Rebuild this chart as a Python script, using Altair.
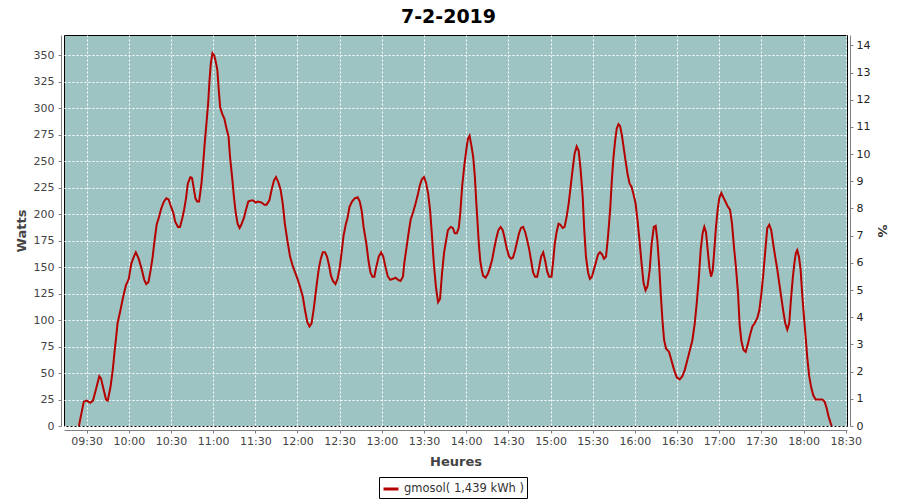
import altair as alt
import pandas as pd

TITLE = "7-2-2019"
SERIES = "gmosol( 1,439 kWh )"

TIMES = [
    "09:24:30", "09:26:00", "09:28:00", "09:30:00", "09:32:36", "09:34:30", "09:36:42", "09:39:00",
    "09:40:12", "09:42:00", "09:43:48", "09:45:00", "09:47:00", "09:48:36", "09:50:00", "09:51:00",
    "09:52:00", "09:54:00", "09:56:00", "09:58:00", "10:00:00", "10:01:42", "10:03:36", "10:05:00",
    "10:07:00", "10:09:00", "10:11:00", "10:12:24", "10:14:00", "10:15:30", "10:17:00", "10:18:18",
    "10:19:48", "10:21:24", "10:23:00", "10:25:00", "10:26:42", "10:28:18", "10:29:48", "10:31:42",
    "10:33:00", "10:35:00", "10:36:24", "10:38:00", "10:39:18", "10:40:42", "10:42:00", "10:43:48",
    "10:45:00", "10:46:00", "10:47:24", "10:48:36", "10:50:00", "10:51:42", "10:52:54", "10:54:00",
    "10:55:00", "10:56:24", "10:57:24", "10:58:18", "10:59:30", "11:00:42", "11:01:42", "11:03:00",
    "11:04:00", "11:05:00", "11:06:24", "11:08:00", "11:09:18", "11:11:00", "11:12:00", "11:13:30",
    "11:14:48", "11:16:00", "11:17:24", "11:18:48", "11:20:00", "11:22:00", "11:23:18", "11:25:00",
    "11:27:00", "11:28:36", "11:30:12", "11:32:00", "11:34:30", "11:36:24", "11:38:00", "11:40:00",
    "11:41:36", "11:43:18", "11:44:42", "11:46:24", "11:48:00", "11:49:30", "11:51:00", "11:52:48",
    "11:54:42", "11:56:24", "11:58:18", "12:00:00", "12:01:54", "12:03:48", "12:05:24", "12:07:00",
    "12:08:30", "12:10:00", "12:11:24", "12:12:36", "12:13:48", "12:15:12", "12:16:36", "12:18:00",
    "12:19:30", "12:21:00", "12:22:24", "12:23:48", "12:25:12", "12:27:00", "12:28:30", "12:30:00",
    "12:31:24", "12:32:48", "12:34:18", "12:35:42", "12:37:00", "12:38:48", "12:40:42", "12:42:48",
    "12:44:18", "12:45:42", "12:47:00", "12:49:00", "12:50:30", "12:51:54", "12:53:18", "12:54:42",
    "12:56:00", "12:57:48", "12:59:30", "13:01:00", "13:02:36", "13:04:18", "13:06:00", "13:08:00",
    "13:09:42", "13:11:36", "13:13:18", "13:15:00", "13:16:00", "13:17:36", "13:19:00", "13:20:30",
    "13:22:18", "13:24:00", "13:25:42", "13:27:00", "13:28:30", "13:30:00", "13:31:24", "13:33:00",
    "13:34:18", "13:35:42", "13:37:00", "13:38:30", "13:40:00", "13:41:24", "13:42:48", "13:44:18",
    "13:45:42", "13:47:00", "13:49:00", "13:50:30", "13:51:54", "13:53:18", "13:54:42", "13:55:48",
    "13:57:06", "13:58:36", "14:00:00", "14:01:12", "14:02:24", "14:03:48", "14:05:00", "14:06:12",
    "14:07:06", "14:08:00", "14:09:00", "14:10:00", "14:11:00", "14:12:00", "14:13:48", "14:15:30",
    "14:17:00", "14:18:36", "14:20:00", "14:21:24", "14:22:54", "14:24:30", "14:26:00", "14:27:24",
    "14:28:48", "14:30:30", "14:32:00", "14:33:18", "14:34:48", "14:36:12", "14:37:36", "14:39:00",
    "14:40:30", "14:42:00", "14:43:18", "14:44:48", "14:46:12", "14:47:36", "14:49:00", "14:50:30",
    "14:51:54", "14:53:18", "14:54:48", "14:56:12", "14:57:36", "14:59:00", "15:00:42", "15:01:54",
    "15:03:00", "15:04:18", "15:05:42", "15:07:00", "15:08:36", "15:10:00", "15:11:24", "15:12:54",
    "15:14:18", "15:15:42", "15:17:06", "15:18:36", "15:20:00", "15:21:24", "15:22:54", "15:24:00",
    "15:25:12", "15:26:42", "15:28:00", "15:29:30", "15:30:54", "15:32:24", "15:33:48", "15:35:12",
    "15:36:42", "15:38:00", "15:39:30", "15:40:54", "15:42:24", "15:43:36", "15:44:48", "15:46:00",
    "15:47:06", "15:48:18", "15:49:30", "15:50:42", "15:51:54", "15:53:18", "15:54:48", "15:56:12",
    "15:57:36", "15:59:00", "16:00:30", "16:01:54", "16:03:18", "16:04:48", "16:06:12", "16:07:36",
    "16:09:00", "16:10:30", "16:11:54", "16:13:30", "16:14:48", "16:16:00", "16:17:12", "16:18:24",
    "16:19:36", "16:20:48", "16:22:12", "16:24:18", "16:26:00", "16:27:54", "16:29:48", "16:31:54",
    "16:33:48", "16:35:30", "16:37:18", "16:39:12", "16:40:54", "16:42:36", "16:44:00", "16:45:24",
    "16:46:48", "16:48:12", "16:49:24", "16:50:36", "16:51:48", "16:53:00", "16:54:12", "16:55:24",
    "16:56:30", "16:57:42", "16:58:54", "17:00:00", "17:01:30", "17:02:54", "17:04:24", "17:05:48",
    "17:07:42", "17:09:06", "17:10:30", "17:11:54", "17:13:24", "17:14:30", "17:15:42", "17:17:12",
    "17:18:48", "17:20:30", "17:21:54", "17:23:36", "17:25:12", "17:27:06", "17:28:30", "17:30:00",
    "17:31:24", "17:32:48", "17:34:12", "17:35:36", "17:37:00", "17:38:24", "17:39:48", "17:41:18",
    "17:42:42", "17:44:06", "17:45:30", "17:47:00", "17:48:24", "17:49:48", "17:51:00", "17:52:12",
    "17:53:24", "17:54:30", "17:55:30", "17:56:42", "17:57:54", "17:59:00", "18:00:18", "18:01:30",
    "18:02:36", "18:04:00", "18:05:30", "18:06:54", "18:08:36", "18:10:54", "18:13:18", "18:15:00",
    "18:16:24", "18:17:48", "18:19:12", "18:20:00",
]

WATTS = [
    0, 10, 23, 24, 22, 24, 35, 47,
    45, 35, 25, 24, 37, 53, 72, 84,
    97, 109, 122, 133, 139, 153, 160, 164,
    158, 149, 138, 134, 136, 147, 160, 175,
    190, 197, 205, 212, 215, 214, 208, 201,
    193, 188, 188, 196, 204, 215, 229, 235,
    234, 226, 215, 212, 212, 229, 248, 267,
    282, 304, 326, 342, 352, 350, 345, 336,
    317, 301, 295, 290, 282, 273, 254, 235,
    216, 202, 191, 187, 190, 197, 204, 212,
    213, 213, 211, 212, 211, 209, 209, 213,
    223, 232, 235, 230, 223, 210, 191, 175,
    160, 152, 145, 139, 131, 122, 109, 98,
    94, 97, 109, 122, 135, 149, 158, 164,
    164, 160, 152, 142, 137, 134, 139, 149,
    164, 180, 190, 197, 207, 212, 215, 216,
    212, 203, 188, 172, 156, 145, 141, 141,
    150, 160, 164, 160, 150, 141, 138, 139,
    140, 138, 137, 141, 154, 169, 182, 195,
    202, 210, 219, 227, 233, 235, 230, 219,
    204, 179, 153, 131, 117, 120, 144, 164,
    175, 185, 188, 187, 182, 182, 187, 201,
    226, 245, 260, 271, 274, 264, 254, 235,
    213, 194, 172, 156, 148, 142, 140, 144,
    150, 158, 168, 177, 185, 188, 185, 177,
    168, 160, 158, 159, 166, 174, 182, 187,
    188, 183, 176, 167, 156, 145, 141, 141,
    150, 160, 164, 156, 146, 141, 141, 156,
    172, 183, 191, 190, 187, 188, 197, 210,
    226, 242, 257, 264, 260, 242, 216, 185,
    160, 145, 139, 141, 148, 155, 162, 164,
    162, 158, 160, 179, 204, 232, 254, 270,
    281, 285, 283, 275, 264, 251, 238, 229,
    226, 219, 210, 194, 175, 153, 135, 128,
    132, 147, 172, 188, 189, 175, 153, 125,
    100, 81, 73, 70, 62, 53, 46, 44,
    47, 53, 62, 72, 81, 97, 116, 138,
    166, 182, 188, 183, 166, 150, 141, 147,
    166, 188, 204, 215, 220, 216, 212, 208,
    204, 191, 169, 150, 125, 96, 81, 72,
    70, 78, 86, 94, 97, 102, 109, 125,
    144, 166, 187, 190, 185, 172, 160, 148,
    135, 122, 109, 97, 91, 97, 119, 138,
    153, 163, 166, 160, 148, 125, 103, 84,
    65, 47, 36, 29, 25, 25, 25, 23,
    17, 9, 3, 0,
]

X_TICKS = ["09:30", "10:00", "10:30", "11:00", "11:30", "12:00", "12:30", "13:00", "13:30",
           "14:00", "14:30", "15:00", "15:30", "16:00", "16:30", "17:00", "17:30", "18:00", "18:30"]
X_DOMAIN = ["09:13:54", "18:30:54"]
W_TICKS = [0, 25, 50, 75, 100, 125, 150, 175, 200, 225, 250, 275, 300, 325, 350]
W_DOMAIN = [0, 369.2]
P_TICKS = [0, 1, 2, 3, 4, 5, 6, 7, 8, 9, 10, 11, 12, 13, 14]
P_DOMAIN = [0, 14.38]

RED = "#B50000"
BG = "#9EC3C3"
FONT = "DejaVu Sans"


def to_min(s):
    parts = [int(v) for v in s.split(":")]
    return parts[0] * 60 + parts[1] + (parts[2] / 60 if len(parts) > 2 else 0)


df = pd.DataFrame({
    "t": [to_min(s) for s in TIMES],
    "w": WATTS,
    "serie": SERIES,
})
df["p"] = df["w"] * P_DOMAIN[1] / W_DOMAIN[1]

label_expr = ("(floor(datum.value/60)<10?'0':'')+floor(datum.value/60)+':'+"
              "(datum.value%60<10?'0':'')+(datum.value%60)")

x_axis = alt.Axis(
    values=[to_min(s) for s in X_TICKS], labelExpr=label_expr,
    title="Heures", titleFont=FONT, titleFontSize=13, titleFontWeight="bold", titleColor="#444444",
    titleY=35, titleBaseline="alphabetic",
    labelFont=FONT, labelFontSize=11, labelColor="#444444", labelPadding=2,
    labelFlush=False, labelOverlap=False,
    domainColor="#808080", tickColor="#808080", tickSize=3, offset=4,
    grid=True, gridColor="white", gridDash=[2, 2], gridWidth=1, gridOpacity=1,
)

y_axis = alt.Axis(
    values=W_TICKS, title="Watts", titleFont=FONT, titleFontSize=13, titleFontWeight="bold",
    titleColor="#444444", titleX=-36, titleBaseline="alphabetic",
    labelFont=FONT, labelFontSize=11, labelColor="#444444", labelPadding=4,
    labelFlush=False, labelOverlap=False,
    domainColor="#808080", tickColor="#808080", tickSize=3, offset=3,
    grid=True, gridColor="white", gridDash=[2, 2], gridWidth=1, gridOpacity=1,
)

p_axis = alt.Axis(
    values=P_TICKS, orient="right", title="%", titleFont=FONT, titleFontSize=13,
    titleFontWeight="bold", titleColor="#333333", titleX=27, titleBaseline="alphabetic",
    labelFont=FONT, labelFontSize=11, labelColor="#222222", labelPadding=3,
    labelFlush=False, labelOverlap=False,
    domainColor="#808080", tickColor="#808080", tickSize=3, offset=3, grid=False,
)

x_scale = alt.Scale(domain=[to_min(s) for s in X_DOMAIN], nice=False, zero=False)

line = alt.Chart(df).mark_line(strokeWidth=2).encode(
    x=alt.X("t:Q", scale=x_scale, axis=x_axis),
    y=alt.Y("w:Q", scale=alt.Scale(domain=W_DOMAIN, nice=False), axis=y_axis),
    color=alt.Color("serie:N", scale=alt.Scale(range=[RED]), legend=alt.Legend(
        title=None, orient="none", legendX=315, legendY=442, strokeColor="black",
        fillColor="white", padding=3, symbolType="stroke", symbolStrokeWidth=3,
        symbolSize=225, labelFont=FONT, labelFontSize=11.5, labelColor="#333333",
        labelLimit=300, labelOffset=4,
    )),
)

pct = alt.Chart(df).mark_line(strokeOpacity=0).encode(
    x=alt.X("t:Q", scale=x_scale, axis=x_axis),
    y=alt.Y("p:Q", scale=alt.Scale(domain=P_DOMAIN, nice=False), axis=p_axis),
)

chart = alt.layer(line, pct).resolve_scale(y="independent").properties(
    width=783, height=391,
    autosize=alt.AutoSizeParams(type="none"),
    padding={"left": 56, "top": 27, "right": 45, "bottom": 74},
    title=alt.TitleParams(TITLE, font=FONT, fontSize=19, fontWeight="bold", color="black",
                          anchor="middle", frame="group", offset=8, dx=-7),
).configure(font=FONT).configure_view(fill=BG, stroke="black", strokeWidth=1)

chart.save("out.html", embed_options={"renderer": "svg", "actions": False})
